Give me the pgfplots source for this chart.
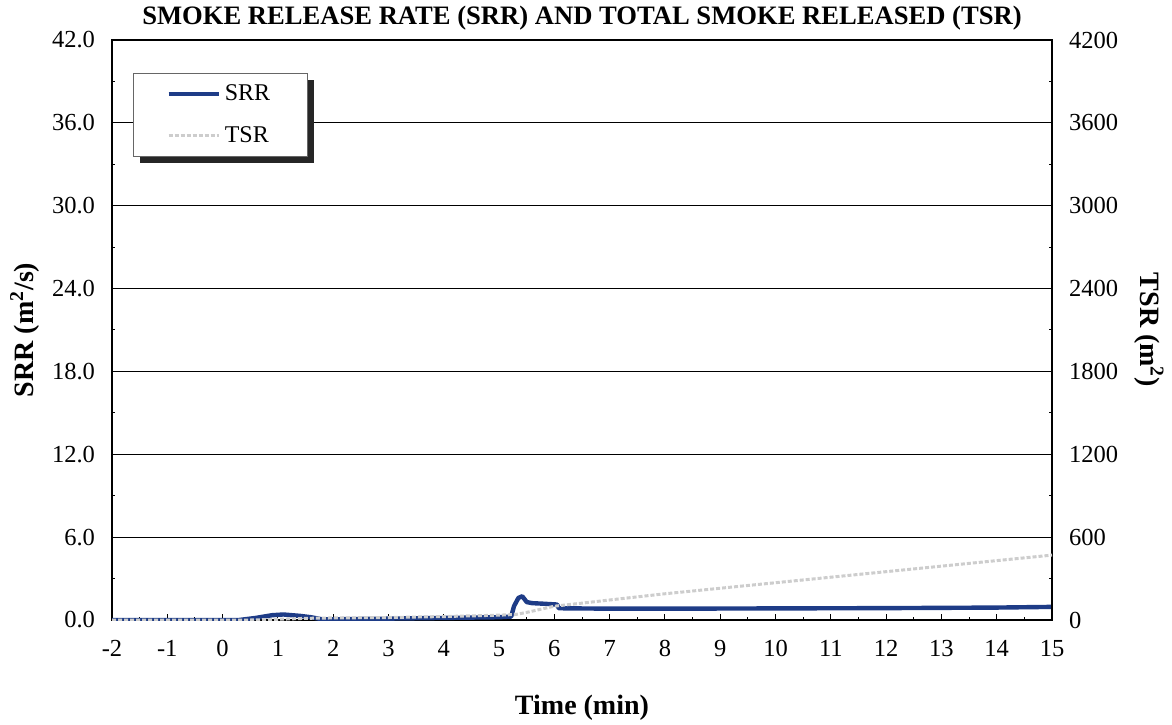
\documentclass[border=0pt]{standalone}
\usepackage{fontspec}
\setmainfont{Liberation Serif}
\usepackage{pgfplots}
\pgfplotsset{compat=1.18}
\usetikzlibrary{shadows}
\makeatletter
\tikzset{no preactions/.code={\let\tikz@preactions\pgfutil@empty}}
\makeatother
\definecolor{srr}{RGB}{30,60,135}
\definecolor{tsr}{RGB}{205,205,205}
\pgfplotsset{
  common/.style={
    at={(56pt,52pt)}, anchor=south west,
    scale only axis, width=470pt, height=290pt,
    xmin=-2, xmax=15,
    tick align=inside,
    major tick length=3pt, minor tick length=1.6pt,
    tick style={black, line width=0.5pt},
    axis line style={line width=1.3pt},
    /pgf/number format/assume math mode=true,
    ticklabel style={font=\fontsize{12.25}{14}\selectfont},
    label style={font=\fontsize{14}{16}\selectfont\bfseries},
  }
}
\begin{document}
\begin{tikzpicture}
\useasboundingbox (0,0) rectangle (586pt,362pt);
\begin{axis}[common,
  ymin=0, ymax=42,
  xtick={-2,-1,...,15}, minor x tick num=1,
  ytick={0,6,...,42}, minor y tick num=1,
  xtick pos=bottom, ytick pos=left,
  yticklabel style={/pgf/number format/fixed, /pgf/number format/fixed zerofill, /pgf/number format/precision=1, xshift=-5pt},
  xticklabel style={yshift=-6.5pt},
  ymajorgrids, major grid style={black, line width=0.6pt},
  title={SMOKE RELEASE RATE (SRR) AND TOTAL SMOKE RELEASED (TSR)},
  title style={font=\fontsize{13.3}{15}\selectfont\bfseries, at={(0.5,1)}, anchor=center, yshift=5pt},
  xlabel={Time (min)},
  xlabel style={at={(axis description cs:0.5,-0.152)}, anchor=center},
  ylabel={SRR (m\textsuperscript{2}/s)},
  ylabel style={at={(axis description cs:-0.0926,0.5)}, anchor=center},
  legend image code/.code={\draw[no preactions,#1] (0pt,0pt) -- (25pt,0pt);},
  legend style={at={(0.0223,0.943)}, anchor=north west, draw=black!60, fill=white,
    font=\fontsize{12}{14}\selectfont, inner xsep=16.5pt, inner ysep=3.5pt, row sep=7.5pt,
    drop shadow={shadow xshift=3.25pt, shadow yshift=-3.25pt, fill=black!85, opacity=1},
    legend cell align=left},
]
\addplot[srr, line width=2.2pt, line join=round] coordinates {
(-2,0) (0.3,0) (0.6,0.15) (0.9,0.35) (1.1,0.4) (1.4,0.3) (1.6,0.2) (1.8,0.05)
(2.0,0.05) (3.0,0.1) (4.0,0.15) (5.0,0.2) (5.22,0.25) (5.27,1.0) (5.35,1.6) (5.42,1.72)
(5.5,1.3) (5.6,1.22) (5.8,1.18) (6.05,1.12) (6.08,0.85) (7,0.82) (8,0.82) (9,0.83)
(10,0.84) (11,0.85) (12,0.86) (13,0.88) (14,0.9) (15,0.95)
};
\addlegendentry{SRR}
\addlegendimage{tsr, line width=1.5pt, dash pattern=on 2pt off 1pt}
\addlegendentry{TSR}
\end{axis}
\begin{axis}[common,
  ymin=0, ymax=4200,
  axis y line*=right, axis x line=none,
  ytick={0,600,...,4200}, minor y tick num=1,
  yticklabel style={/pgf/number format/fixed, /pgf/number format/precision=0, /pgf/number format/1000 sep={}, xshift=5pt},
  ylabel={TSR (m\textsuperscript{2})},
  ylabel style={at={(axis description cs:1.103,0.5)}, anchor=center, rotate=180},
]
\addplot[tsr, line width=1.5pt, dash pattern=on 2pt off 1pt] coordinates {
(-2,0) (0.5,0) (1,5) (1.5,12) (2,15) (3,18) (4,25) (5,35) (5.3,40) (5.5,55)
(6,100) (6.5,122) (7,145) (8,190) (9,230) (10,270) (11,310) (12,350) (13,390)
(14,430) (15,470)
};
\end{axis}
\end{tikzpicture}
\end{document}
